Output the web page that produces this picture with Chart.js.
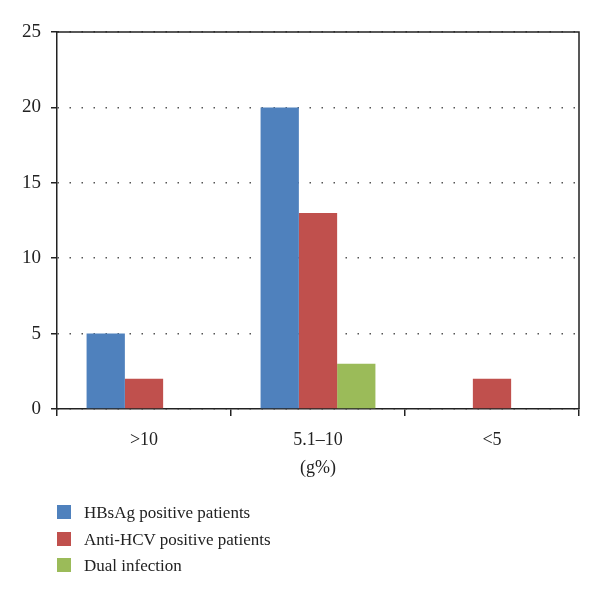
<!DOCTYPE html>
<html>
<head>
<meta charset="utf-8">
<script src="https://cdn.jsdelivr.net/npm/chart.js@4/dist/chart.umd.min.js"></script>
<style>
  body { margin: 0; background: #fff; }
  #wrap { position: relative; width: 600px; height: 599px; }
  #legend {
    position: absolute; left: 57px; top: 500px;
    font-family: "Liberation Serif", "DejaVu Serif", serif;
    font-size: 17px; color: #222;
  }
  #legend div { height: 26.5px; line-height: 26.5px; }
  #legend span {
    display: inline-block; width: 14px; height: 14px;
    margin-right: 13px; vertical-align: -1px;
  }
</style>
</head>
<body>
<div id="wrap">
  <canvas id="hbChart" width="600" height="599"></canvas>
  <div id="legend"></div>
</div>
<script>
// data
const categories = [">10", "5.1\u201310", "<5"];
const hbsagValues = [5, 20, 0];
const hcvValues = [2, 13, 2];
const dualValues = [0, 3, 0];
const yTicks = [0, 5, 10, 15, 20, 25];

const seriesNames = ["HBsAg positive patients", "Anti-HCV positive patients", "Dual infection"];
const seriesColors = ["#4F81BD", "#C0504D", "#9BBB59"];

const serif = "'Liberation Serif', 'DejaVu Serif', serif";

// box round the plot area (top and right sides)
const boxPlugin = {
  id: "box",
  afterDraw(chart) {
    const a = chart.chartArea;
    const c = chart.ctx;
    c.save();
    c.strokeStyle = "#222";
    c.lineWidth = 1.5;
    c.beginPath();
    c.moveTo(a.left, a.top);
    c.lineTo(a.right, a.top);
    c.lineTo(a.right, a.bottom);
    c.stroke();
    c.restore();
  },
};

const ctx = document.getElementById("hbChart").getContext("2d");

const hbChart = new Chart(ctx, {
  type: "bar",
  data: {
    labels: categories,
    datasets: [
      { label: seriesNames[0], data: hbsagValues, backgroundColor: seriesColors[0] },
      { label: seriesNames[1], data: hcvValues, backgroundColor: seriesColors[1] },
      { label: seriesNames[2], data: dualValues, backgroundColor: seriesColors[2] },
    ],
  },
  options: {
    responsive: false,
    animation: false,
    layout: { padding: { top: 32, right: 21, bottom: 118, left: 0 } },
    datasets: {
      bar: { barPercentage: 1, categoryPercentage: 0.66 },
    },
    plugins: {
      legend: { display: false },
      tooltip: { enabled: false },
    },
    scales: {
      x: {
        grid: {
          offset: true,
          drawOnChartArea: false,
          color: "#222",
          lineWidth: 1.5,
          tickLength: 7,
        },
        border: { color: "#222", width: 1.5 },
        ticks: {
          color: "#222",
          padding: 13,
          font: { family: serif, size: 18 },
        },
        title: {
          display: true,
          text: "(g%)",
          color: "#222",
          padding: { top: 4, bottom: 2 },
          font: { family: serif, size: 18 },
        },
        afterFit(scale) {
          scale.height = 72;
        },
      },
      y: {
        min: 0,
        max: 25,
        afterBuildTicks(scale) {
          scale.ticks = yTicks.map((v) => ({ value: v }));
        },
        grid: {
          color: "#555",
          lineWidth: 1.5,
          tickBorderDash: [],
          tickColor: "#222",
          tickLength: 6,
        },
        border: { color: "#222", width: 1.5, dash: [1.5, 10.5] },
        ticks: {
          color: "#222",
          padding: 10,
          font: { family: serif, size: 19 },
        },
        afterFit(scale) {
          scale.width = 57;
        },
      },
    },
  },
  plugins: [boxPlugin],
});

// legend under the chart
const legendBox = document.getElementById("legend");
seriesNames.forEach((name, i) => {
  const row = document.createElement("div");
  row.innerHTML = '<span style="background:' + seriesColors[i] + '"></span>' + name;
  legendBox.appendChild(row);
});
</script>
</body>
</html>
